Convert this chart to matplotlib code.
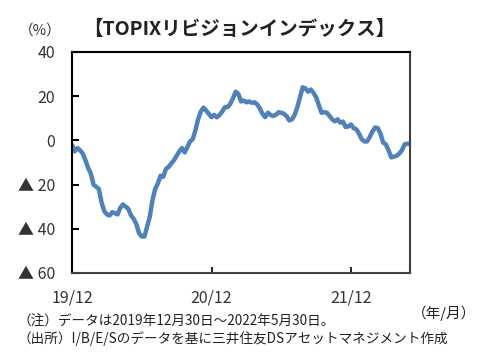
import numpy as np
import matplotlib
matplotlib.use("Agg")
import matplotlib.pyplot as plt

plt.rcParams['font.family'] = ['Noto Sans CJK JP', 'DejaVu Sans']

# weekly values, 2019/12/30 - 2022/5/30 (%)
values = [-2, -5, -3.5, -4.5, -6, -9, -12.5, -15, -20, -21,
          -22, -28, -32, -33.5, -34, -32.5, -33, -33.5, -30.5, -29,
          -30, -31, -34, -35.5, -38, -42, -43.5, -43.5, -39, -34.5,
          -27, -22, -19.5, -16, -16.5, -13, -12, -10.5, -9, -7,
          -5, -3.5, -5.5, -3, -0.5, 0.5, 4.5, 9.5, 13, 14.8,
          13.5, 12, 10.5, 11.5, 10.4, 11.5, 13, 15, 15, 16.5,
          19, 22, 21, 17.6, 18, 17.2, 17.6, 17, 17.2, 16.3,
          14.5, 12, 10.5, 12.5, 11.5, 11, 11.5, 12.7, 12.5, 12,
          10.9, 9, 9.5, 11.5, 15, 19.5, 24, 23.5, 22, 23,
          21.5, 19.5, 16, 12.5, 12.7, 12.5, 11, 9.5, 8.6, 9.5,
          8, 8.5, 6, 6.3, 7.2, 5.5, 5, 3, 0.5, -0.5,
          -0.5, 1.5, 4, 5.8, 5.5, 3, -1, -1.8, -4.5, -7.7,
          -7.4, -7, -6, -4.5, -1.8, -1.5, -1.6]
tick_pos = [0, 52, 104]
tick_labels = ['19/12', '20/12', '21/12']
y_ticks = [40, 20, 0, -20, -40, -60]
y_labels = ['40', '20', '0', '▲ 20', '▲ 40', '▲ 60']

fig = plt.figure(figsize=(4.84, 3.63), dpi=100)
ax = fig.add_axes([0.1488, 0.248, 0.6983, 0.609])

x = np.arange(len(values))
ax.plot(x, values, color='#4F81BD', lw=3.2, solid_capstyle='round', solid_joinstyle='round')

ax.set_xlim(0, len(values) - 1)
ax.set_ylim(-60, 40)
ax.set_xticks(tick_pos)
ax.set_xticklabels(tick_labels, fontsize=11.5, color='#333333')
ax.set_yticks(y_ticks)
ax.set_yticklabels(y_labels, fontsize=11.5, color='#333333')
ax.tick_params(axis='y', direction='in', length=5, width=1.5, pad=12)
ax.tick_params(axis='x', direction='in', length=4, width=1.2, pad=12)

ax.spines['left'].set_color('black')
ax.spines['top'].set_color('black')
ax.spines['right'].set_color('#404040')
ax.spines['bottom'].set_color('#404040')
for s in ax.spines.values():
    s.set_linewidth(1.5)

fig.text(0.494, 0.918, '【TOPIXリビジョンインデックス】', ha='center', va='center',
         fontsize=14, fontweight='bold', color='#222222')
fig.text(0.083, 0.915, '（%）', ha='center', va='center', fontsize=10.5, color='#333333')
fig.text(0.917, 0.138, '（年/月）', ha='center', va='center', fontsize=10.5, color='#222222')
fig.text(0.036, 0.113, '（注）データは2019年12月30日～2022年5月30日。', ha='left', va='center',
         fontsize=9.8, color='#222222')
fig.text(0.036, 0.067, '（出所）I/B/E/Sのデータを基に三井住友DSアセットマネジメント作成', ha='left',
         va='center', fontsize=9.8, color='#222222')

fig.savefig('out.png', dpi=100)
